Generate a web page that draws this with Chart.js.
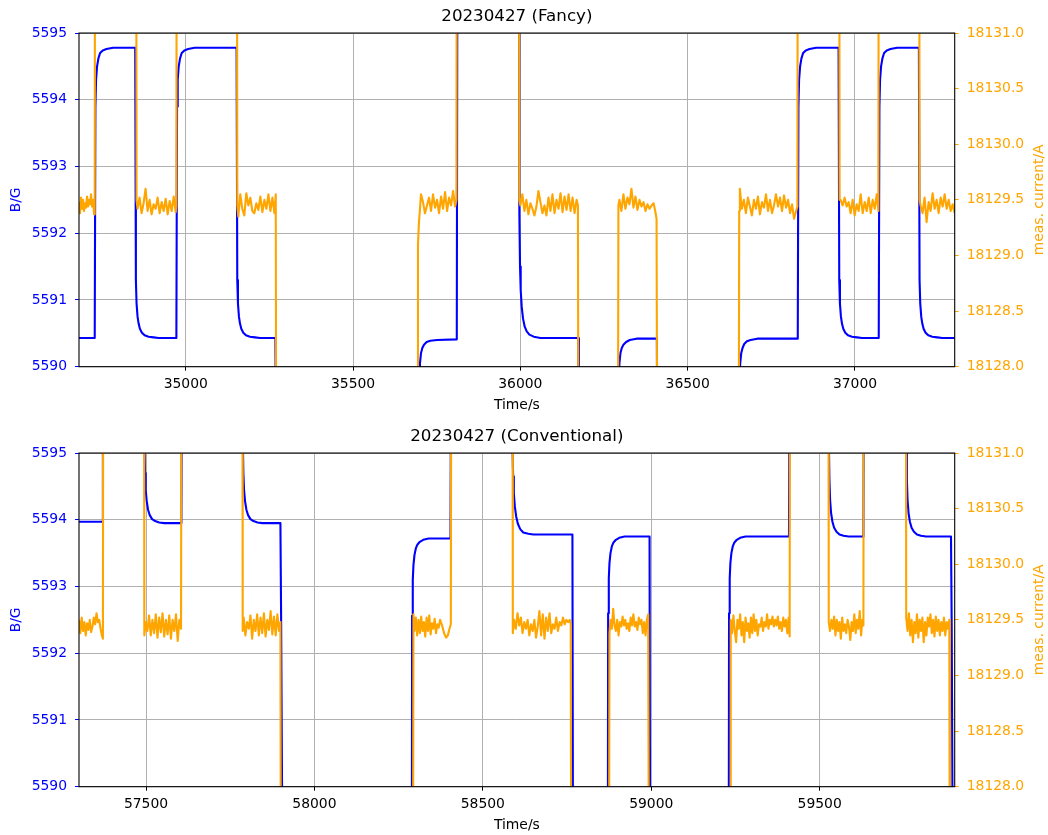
<!DOCTYPE html>
<html>
<head>
<meta charset="utf-8">
<title>20230427</title>
<script src="https://cdn.jsdelivr.net/npm/chart.js"></script>
<style>
  html, body { margin: 0; padding: 0; background: #fff; overflow: hidden; }
  canvas { position: absolute; left: 0; }
  #fancy { top: 0; }
  #conv { top: 420px; }
</style>
</head>
<body>
<canvas id="fancy" width="1048" height="418"></canvas>
<canvas id="conv" width="1048" height="418"></canvas>
<script>
'use strict'

// DATA - [time in s, value]

// top plot (Fancy), B/G
var fancyField = [
	[34681, 5590.43], [34728, 5590.43],
	[34730, 5593.9], [34732, 5594.3], [34735, 5594.5], [34739, 5594.62], [34744, 5594.7], [34752, 5594.74], [34763, 5594.76], [34783, 5594.78],
	[34849, 5594.78],
	[34851, 5591.3], [34853, 5590.95], [34856, 5590.75], [34859, 5590.65], [34863, 5590.57], [34869, 5590.51], [34877, 5590.47], [34889, 5590.45], [34904, 5590.44], [34919, 5590.43],
	[34972, 5590.43],
	[34974, 5593.9], [34976, 5594.3], [34979, 5594.5], [34983, 5594.62], [34988, 5594.7], [34996, 5594.74], [35007, 5594.76], [35027, 5594.78],
	[35152, 5594.78],
	[35154, 5591.3], [35156, 5590.95], [35159, 5590.75], [35162, 5590.65], [35166, 5590.57], [35172, 5590.51], [35180, 5590.47], [35192, 5590.45], [35207, 5590.44], [35222, 5590.43],
	[35268, 5590.43], [35271, 5588],
	[35696, 5588], [35698, 5589.7], [35700, 5590.05], [35703, 5590.2], [35707, 5590.28], [35712, 5590.33], [35720, 5590.37], [35731, 5590.39], [35751, 5590.40],
	[35810, 5590.41], [35812, 5597],
	[35996, 5597], [35997, 5592.3], [35999, 5591.5], [36001, 5591.15], [36004, 5590.9], [36008, 5590.72], [36013, 5590.6], [36019, 5590.53], [36027, 5590.48], [36040, 5590.45], [36060, 5590.43],
	[36173, 5590.43], [36175, 5588],
	[36292, 5588], [36294, 5589.7], [36296, 5590.05], [36299, 5590.2], [36303, 5590.28], [36308, 5590.33], [36316, 5590.37], [36327, 5590.4], [36347, 5590.42],
	[36408, 5590.42], [36410, 5588],
	[36653, 5588], [36655, 5589.7], [36657, 5590.05], [36660, 5590.2], [36664, 5590.28], [36669, 5590.34], [36677, 5590.38], [36688, 5590.4], [36708, 5590.42],
	[36829, 5590.42],
	[36831, 5593.9], [36833, 5594.3], [36836, 5594.5], [36840, 5594.62], [36845, 5594.7], [36853, 5594.74], [36864, 5594.76], [36884, 5594.78],
	[36951, 5594.78],
	[36953, 5591.3], [36955, 5590.95], [36958, 5590.75], [36961, 5590.65], [36965, 5590.57], [36971, 5590.51], [36979, 5590.47], [36991, 5590.45], [37006, 5590.44], [37021, 5590.43],
	[37071, 5590.43],
	[37073, 5593.9], [37075, 5594.3], [37078, 5594.5], [37082, 5594.62], [37087, 5594.7], [37095, 5594.74], [37106, 5594.76], [37126, 5594.78],
	[37191, 5594.78],
	[37193, 5591.3], [37195, 5590.95], [37198, 5590.75], [37201, 5590.65], [37205, 5590.57], [37211, 5590.51], [37219, 5590.47], [37231, 5590.45], [37246, 5590.44], [37261, 5590.43],
	[37298, 5590.43]
];

// top plot (Fancy), meas. current/A
var fancyCurrent = [
	[34681, 18129.48], [34684, 18129.38], [34687, 18129.52], [34690, 18129.42], [34693, 18129.50], [34696, 18129.40],
	[34699, 18129.47], [34702, 18129.43], [34705, 18129.53], [34708, 18129.44], [34711, 18129.50], [34714, 18129.46],
	[34717, 18129.55], [34720, 18129.44], [34723, 18129.50], [34726, 18129.37], [34728, 18129.40],
	[34730, 18136], [34851, 18136],
	[34853, 18129.50], [34856, 18129.42], [34862, 18129.52], [34868, 18129.38], [34874, 18129.47], [34880, 18129.60],
	[34886, 18129.40], [34892, 18129.50], [34898, 18129.37], [34904, 18129.46], [34910, 18129.42], [34916, 18129.52],
	[34922, 18129.38], [34928, 18129.48], [34934, 18129.40], [34940, 18129.51], [34946, 18129.37], [34952, 18129.49],
	[34958, 18129.40], [34964, 18129.53], [34970, 18129.39], [34972, 18129.45],
	[34974, 18136], [35152, 18136],
	[35154, 18129.45], [35157, 18129.35], [35163, 18129.55], [35169, 18129.42], [35175, 18129.36], [35181, 18129.56],
	[35187, 18129.45], [35193, 18129.52], [35199, 18129.40], [35205, 18129.38], [35211, 18129.47], [35217, 18129.41],
	[35223, 18129.53], [35229, 18129.39], [35235, 18129.50], [35241, 18129.42], [35247, 18129.55], [35253, 18129.40],
	[35259, 18129.52], [35265, 18129.38], [35269, 18129.55],
	[35271, 18126], [35692, 18126],
	[35694, 18129.1], [35697, 18129.3], [35700, 18129.42], [35703, 18129.55], [35709, 18129.48], [35715, 18129.38],
	[35721, 18129.45], [35727, 18129.52], [35733, 18129.40], [35739, 18129.55], [35745, 18129.43], [35751, 18129.50],
	[35757, 18129.38], [35763, 18129.53], [35769, 18129.42], [35775, 18129.57], [35781, 18129.40], [35787, 18129.52],
	[35793, 18129.45], [35799, 18129.58], [35805, 18129.44], [35809, 18129.50],
	[35811, 18136], [35995, 18136],
	[35997, 18129.50], [36000, 18129.45], [36006, 18129.55], [36012, 18129.40], [36018, 18129.50], [36024, 18129.37],
	[36030, 18129.47], [36036, 18129.42], [36042, 18129.36], [36048, 18129.44], [36054, 18129.58], [36060, 18129.48],
	[36066, 18129.38], [36072, 18129.45], [36078, 18129.36], [36084, 18129.52], [36090, 18129.40], [36096, 18129.55],
	[36102, 18129.38], [36108, 18129.50], [36114, 18129.42], [36120, 18129.56], [36126, 18129.39], [36132, 18129.53],
	[36138, 18129.41], [36144, 18129.55], [36150, 18129.40], [36156, 18129.52], [36162, 18129.38], [36168, 18129.50],
	[36172, 18129.45],
	[36174, 18126], [36291, 18126],
	[36293, 18129.45], [36296, 18129.50], [36302, 18129.40], [36308, 18129.55], [36314, 18129.42], [36320, 18129.52],
	[36326, 18129.46], [36332, 18129.60], [36338, 18129.43], [36344, 18129.53], [36350, 18129.41], [36356, 18129.50],
	[36362, 18129.44], [36368, 18129.48], [36374, 18129.40], [36380, 18129.46], [36386, 18129.42], [36392, 18129.45],
	[36398, 18129.47], [36403, 18129.40], [36407, 18129.33],
	[36410, 18126], [36652, 18126],
	[36654, 18129.40], [36656, 18129.60], [36662, 18129.42], [36668, 18129.50], [36674, 18129.38], [36680, 18129.52],
	[36686, 18129.44], [36692, 18129.36], [36698, 18129.50], [36704, 18129.42], [36710, 18129.53], [36716, 18129.37],
	[36722, 18129.48], [36728, 18129.43], [36734, 18129.55], [36740, 18129.40], [36746, 18129.50], [36752, 18129.38],
	[36758, 18129.45], [36764, 18129.55], [36770, 18129.44], [36776, 18129.52], [36782, 18129.40], [36788, 18129.54],
	[36794, 18129.43], [36800, 18129.50], [36806, 18129.38], [36812, 18129.46], [36818, 18129.33], [36824, 18129.40],
	[36828, 18129.44],
	[36830, 18136], [36952, 18136],
	[36954, 18129.50], [36957, 18129.50], [36963, 18129.45], [36969, 18129.52], [36975, 18129.44], [36981, 18129.48],
	[36987, 18129.38], [36993, 18129.50], [36999, 18129.36], [37005, 18129.46], [37011, 18129.40], [37017, 18129.55],
	[37023, 18129.38], [37029, 18129.48], [37035, 18129.40], [37041, 18129.52], [37047, 18129.38], [37053, 18129.50],
	[37059, 18129.42], [37065, 18129.55], [37070, 18129.40],
	[37072, 18136], [37191, 18136],
	[37193, 18129.50], [37196, 18129.45], [37202, 18129.38], [37208, 18129.52], [37214, 18129.30], [37220, 18129.48],
	[37226, 18129.40], [37232, 18129.56], [37238, 18129.42], [37244, 18129.50], [37250, 18129.38], [37256, 18129.52],
	[37262, 18129.44], [37268, 18129.55], [37274, 18129.42], [37280, 18129.50], [37286, 18129.40], [37292, 18129.46],
	[37298, 18129.38]
];

// bottom plot (Conventional), B/G
var convField = [
	[57301, 5593.97], [57370, 5593.97], [57372, 5597],
	[57493, 5597], [57495, 5595.3], [57497, 5594.7], [57499, 5594.45], [57502, 5594.28], [57506, 5594.15], [57511, 5594.07], [57518, 5594.01], [57527, 5593.98], [57539, 5593.96], [57554, 5593.95],
	[57605, 5593.95], [57607, 5597],
	[57785, 5597], [57787, 5595.3], [57789, 5594.7], [57791, 5594.45], [57794, 5594.28], [57798, 5594.15], [57803, 5594.07], [57810, 5594.01], [57819, 5593.98], [57831, 5593.96], [57846, 5593.95],
	[57899, 5593.95], [57901, 5592.6], [57906, 5588],
	[58289, 5588], [58290, 5592.56], [58292, 5593.1], [58294, 5593.32], [58297, 5593.47], [58301, 5593.57], [58306, 5593.63], [58313, 5593.67], [58323, 5593.70], [58339, 5593.72],
	[58404, 5593.72], [58406, 5597],
	[58586, 5597], [58588, 5595.1], [58590, 5594.65], [58592, 5594.4], [58595, 5594.2], [58599, 5594.05], [58604, 5593.94], [58611, 5593.86], [58620, 5593.81], [58635, 5593.79], [58650, 5593.78],
	[58766, 5593.78], [58768, 5588],
	[58871, 5588], [58872, 5592.6], [58874, 5593.12], [58876, 5593.35], [58879, 5593.5], [58883, 5593.6], [58888, 5593.66], [58895, 5593.7], [58905, 5593.73], [58921, 5593.75],
	[58995, 5593.75], [58997, 5588],
	[59230, 5588], [59231, 5592.6], [59233, 5593.12], [59235, 5593.35], [59238, 5593.5], [59242, 5593.6], [59247, 5593.66], [59254, 5593.7], [59264, 5593.73], [59280, 5593.75],
	[59409, 5593.75], [59411, 5597],
	[59525, 5597], [59527, 5595.3], [59529, 5594.6], [59531, 5594.3], [59534, 5594.1], [59538, 5593.97], [59543, 5593.88], [59550, 5593.82], [59559, 5593.78], [59571, 5593.76], [59586, 5593.75],
	[59630, 5593.75], [59632, 5597],
	[59755, 5597], [59757, 5595.3], [59759, 5594.6], [59761, 5594.3], [59764, 5594.1], [59768, 5593.97], [59773, 5593.88], [59780, 5593.82], [59789, 5593.78], [59801, 5593.76], [59816, 5593.75],
	[59890, 5593.75], [59892, 5592.5], [59896, 5588], [59901, 5588]
];

// bottom plot (Conventional), meas. current/A
var convCurrent = [
	[57301, 18129.50], [57305, 18129.38], [57309, 18129.52], [57313, 18129.40], [57317, 18129.48], [57321, 18129.36],
	[57325, 18129.47], [57329, 18129.41], [57333, 18129.50], [57337, 18129.39], [57341, 18129.44], [57345, 18129.52],
	[57349, 18129.46], [57353, 18129.56], [57357, 18129.48], [57361, 18129.50], [57365, 18129.42], [57369, 18129.36],
	[57372, 18129.33],
	[57374, 18136], [57493, 18136],
	[57495, 18129.36], [57499, 18129.48], [57504, 18129.40], [57509, 18129.54], [57514, 18129.36], [57519, 18129.50],
	[57524, 18129.38], [57529, 18129.55], [57534, 18129.34], [57539, 18129.52], [57544, 18129.39], [57549, 18129.56],
	[57554, 18129.35], [57559, 18129.50], [57564, 18129.37], [57569, 18129.54], [57574, 18129.33], [57579, 18129.50],
	[57584, 18129.40], [57589, 18129.55], [57594, 18129.31], [57599, 18129.50], [57604, 18129.42],
	[57607, 18136], [57785, 18136],
	[57787, 18129.40], [57790, 18129.52], [57795, 18129.36], [57800, 18129.48], [57805, 18129.42], [57810, 18129.54],
	[57815, 18129.33], [57820, 18129.50], [57825, 18129.40], [57830, 18129.55], [57835, 18129.36], [57840, 18129.52],
	[57845, 18129.38], [57850, 18129.56], [57855, 18129.35], [57860, 18129.50], [57865, 18129.41], [57870, 18129.58],
	[57875, 18129.37], [57880, 18129.53], [57885, 18129.36], [57890, 18129.55], [57895, 18129.40], [57899, 18129.48],
	[57901, 18126], [58292, 18126],
	[58294, 18129.55], [58297, 18129.40], [58301, 18129.52], [58305, 18129.36], [58309, 18129.50], [58313, 18129.38],
	[58317, 18129.53], [58321, 18129.40], [58325, 18129.48], [58329, 18129.35], [58333, 18129.52], [58337, 18129.40],
	[58341, 18129.54], [58345, 18129.37], [58349, 18129.47], [58353, 18129.42], [58357, 18129.51], [58361, 18129.38],
	[58365, 18129.46], [58369, 18129.43], [58373, 18129.50], [58379, 18129.45], [58385, 18129.38], [58391, 18129.34],
	[58396, 18129.36], [58401, 18129.42], [58405, 18129.46],
	[58408, 18136], [58587, 18136],
	[58589, 18129.38], [58593, 18129.50], [58598, 18129.42], [58603, 18129.56], [58608, 18129.45], [58613, 18129.52],
	[58618, 18129.38], [58623, 18129.48], [58628, 18129.42], [58633, 18129.50], [58638, 18129.36], [58643, 18129.46],
	[58648, 18129.40], [58653, 18129.50], [58658, 18129.34], [58663, 18129.44], [58668, 18129.58], [58673, 18129.36],
	[58678, 18129.55], [58683, 18129.33], [58688, 18129.52], [58693, 18129.40], [58698, 18129.56], [58703, 18129.38],
	[58708, 18129.46], [58713, 18129.42], [58718, 18129.52], [58723, 18129.40], [58728, 18129.48], [58733, 18129.45],
	[58738, 18129.52], [58743, 18129.46], [58748, 18129.50], [58753, 18129.48], [58758, 18129.50], [58761, 18129.46],
	[58763, 18126], [58874, 18126],
	[58876, 18129.38], [58879, 18129.50], [58883, 18129.42], [58887, 18129.60], [58891, 18129.45], [58895, 18129.40],
	[58899, 18129.50], [58903, 18129.36], [58907, 18129.48], [58911, 18129.44], [58915, 18129.53], [58919, 18129.45],
	[58923, 18129.50], [58927, 18129.42], [58931, 18129.47], [58935, 18129.40], [58939, 18129.52], [58943, 18129.45],
	[58947, 18129.55], [58951, 18129.44], [58955, 18129.48], [58959, 18129.41], [58963, 18129.52], [58967, 18129.46],
	[58971, 18129.50], [58975, 18129.38], [58979, 18129.48], [58983, 18129.36], [58987, 18129.50], [58991, 18129.55],
	[58994, 18126], [59234, 18126],
	[59236, 18129.50], [59240, 18129.38], [59244, 18129.54], [59248, 18129.40], [59252, 18129.30], [59256, 18129.50],
	[59260, 18129.42], [59264, 18129.55], [59268, 18129.36], [59272, 18129.48], [59276, 18129.30], [59280, 18129.52],
	[59284, 18129.40], [59288, 18129.47], [59292, 18129.34], [59296, 18129.52], [59300, 18129.38], [59304, 18129.55],
	[59308, 18129.40], [59312, 18129.50], [59316, 18129.36], [59320, 18129.46], [59324, 18129.44], [59328, 18129.52],
	[59332, 18129.40], [59336, 18129.48], [59340, 18129.44], [59344, 18129.55], [59348, 18129.42], [59352, 18129.50],
	[59356, 18129.46], [59360, 18129.53], [59364, 18129.44], [59368, 18129.50], [59372, 18129.45], [59376, 18129.53],
	[59380, 18129.42], [59384, 18129.48], [59388, 18129.40], [59392, 18129.52], [59396, 18129.44], [59400, 18129.50],
	[59404, 18129.38], [59408, 18129.52], [59411, 18129.35],
	[59413, 18136], [59525, 18136],
	[59527, 18129.48], [59531, 18129.40], [59535, 18129.50], [59539, 18129.42], [59543, 18129.53], [59547, 18129.36],
	[59551, 18129.50], [59555, 18129.40], [59559, 18129.48], [59563, 18129.33], [59567, 18129.52], [59571, 18129.40],
	[59575, 18129.46], [59579, 18129.38], [59583, 18129.50], [59587, 18129.44], [59591, 18129.32], [59595, 18129.48],
	[59599, 18129.40], [59603, 18129.55], [59607, 18129.38], [59611, 18129.50], [59615, 18129.42], [59619, 18129.58],
	[59623, 18129.36], [59627, 18129.50], [59630, 18129.45],
	[59632, 18136], [59755, 18136],
	[59757, 18129.52], [59761, 18129.40], [59765, 18129.56], [59769, 18129.36], [59773, 18129.50], [59777, 18129.30],
	[59781, 18129.48], [59785, 18129.38], [59789, 18129.55], [59793, 18129.34], [59797, 18129.50], [59801, 18129.40],
	[59805, 18129.52], [59809, 18129.30], [59813, 18129.48], [59817, 18129.36], [59821, 18129.52], [59825, 18129.44],
	[59829, 18129.55], [59833, 18129.38], [59837, 18129.50], [59841, 18129.35], [59845, 18129.53], [59849, 18129.40],
	[59853, 18129.50], [59857, 18129.36], [59861, 18129.48], [59865, 18129.40], [59869, 18129.52], [59873, 18129.36],
	[59877, 18129.48], [59881, 18129.42], [59885, 18129.50],
	[59887, 18126], [59901, 18126]
];

// AXES
var fancyTimeRange = [34681, 37298];
var convTimeRange = [57301, 59901];
var fancyTimeTicks = [35000, 35500, 36000, 36500, 37000];
var convTimeTicks = [57500, 58000, 58500, 59000, 59500];
var fieldRange = [5590, 5595];
var fieldTicks = [5590, 5591, 5592, 5593, 5594, 5595];
var currentRange = [18128, 18131];
var currentTicks = [18128.0, 18128.5, 18129.0, 18129.5, 18130.0, 18130.5, 18131.0];


var FONT = 'DejaVu Sans';
var tickFont = { family: FONT, size: 13.9 };
var titleFont = { family: FONT, size: 16.7, weight: 'normal' };

var toPoints = function(pairs) {
	return pairs.map(function(p) { return { x: p[0], y: p[1] }; });
};

// black frame round the plot area (matplotlib spines)
var framePlugin = {
	id: 'frame',
	afterDraw: function(chart) {
		var a = chart.chartArea;
		var ctx = chart.ctx;
		ctx.save();
		ctx.strokeStyle = '#000';
		ctx.lineWidth = 1.1;
		ctx.strokeRect(a.left, a.top, a.right - a.left, a.bottom - a.top);
		ctx.restore();
	}
};

// right axis label, reading bottom to top like matplotlib
var rightLabelPlugin = {
	id: 'rightLabel',
	afterDraw: function(chart) {
		var a = chart.chartArea;
		var ctx = chart.ctx;
		ctx.save();
		ctx.translate(chart.width - 8.3, (a.top + a.bottom) / 2);
		ctx.rotate(-Math.PI / 2);
		ctx.fillStyle = '#ffa500';
		ctx.font = '13.9px "DejaVu Sans"';
		ctx.textAlign = 'center';
		ctx.textBaseline = 'middle';
		ctx.fillText('meas. current/A', 0, 0);
		ctx.restore();
	}
};

var makeChart = function(id, title, field, current, timeRange, timeTicks) {
	var ctx = document.getElementById(id).getContext('2d');
	return new Chart(ctx, {
		type: 'line',
		data: {
			datasets: [{
				// orange on top, as the twin axis in the original
				label: 'meas. current/A',
				data: toPoints(current),
				yAxisID: 'yC',
				borderColor: '#ffa500',
				borderWidth: 2.1,
				borderJoinStyle: 'round',
				pointRadius: 0,
				tension: 0,
				clip: 0
			},
			{
				label: 'B/G',
				data: toPoints(field),
				yAxisID: 'yB',
				borderColor: '#0000ff',
				borderWidth: 2.1,
				borderJoinStyle: 'round',
				pointRadius: 0,
				tension: 0,
				clip: 0
			}]
		},
		options: {
			responsive: false,
			animation: false,
			devicePixelRatio: 1,
			layout: { padding: 0 },
			plugins: {
				legend: { display: false },
				tooltip: { enabled: false },
				title: {
					display: true,
					text: title,
					color: '#000',
					font: titleFont,
					fullSize: false,
					padding: { top: 7, bottom: 6 }
				}
			},
			scales: {
				x: {
					type: 'linear',
					min: timeRange[0],
					max: timeRange[1],
					afterBuildTicks: function(s) { s.ticks = timeTicks.map(function(v) { return { value: v }; }); },
					afterFit: function(s) { s.height = 51.3; },
					ticks: { color: '#000', font: tickFont, padding: 5, maxRotation: 0, autoSkip: false,
						callback: function(v) { return String(v); } },
					grid: { color: '#b0b0b0', lineWidth: 1, tickColor: '#000', tickLength: 4 },
					border: { display: false },
					title: { display: true, text: 'Time/s', color: '#000', font: tickFont, padding: { top: 0, bottom: 4.7 } }
				},
				yB: {
					type: 'linear',
					position: 'left',
					min: fieldRange[0],
					max: fieldRange[1],
					afterBuildTicks: function(s) { s.ticks = fieldTicks.map(function(v) { return { value: v }; }); },
					afterFit: function(s) { s.width = 79; },
					ticks: { color: '#0000ff', font: tickFont, padding: 8,
						callback: function(v) { return String(v); } },
					grid: { color: '#b0b0b0', lineWidth: 1, tickColor: '#0000ff', tickLength: 4 },
					border: { display: false },
					title: { display: true, text: 'B/G', color: '#0000ff', font: tickFont, padding: { top: 8.4, bottom: 0 } }
				},
				yC: {
					type: 'linear',
					position: 'right',
					min: currentRange[0],
					max: currentRange[1],
					afterBuildTicks: function(s) { s.ticks = currentTicks.map(function(v) { return { value: v }; }); },
					afterFit: function(s) { s.width = 93.3; },
					ticks: { color: '#ffa500', font: tickFont, padding: 8,
						callback: function(v) { return v.toFixed(1); } },
					grid: { display: true, drawOnChartArea: false, tickColor: '#ffa500', tickLength: 4 },
					border: { display: false }
				}
			}
		},
		plugins: [framePlugin, rightLabelPlugin]
	});
};

makeChart('fancy', '20230427 (Fancy)', fancyField, fancyCurrent, fancyTimeRange, fancyTimeTicks);
makeChart('conv', '20230427 (Conventional)', convField, convCurrent, convTimeRange, convTimeTicks);
</script>
</body>
</html>
